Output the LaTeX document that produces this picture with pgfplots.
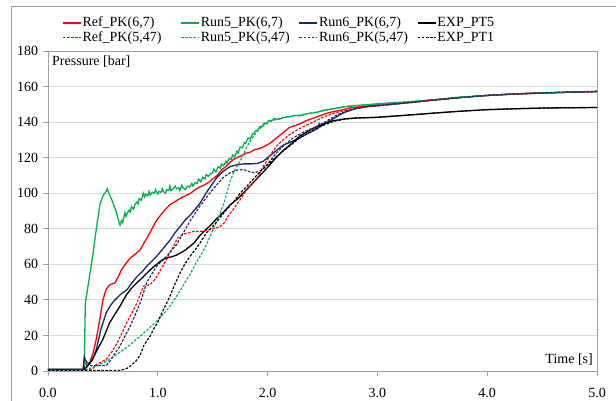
\documentclass[border=0pt]{standalone}
\usepackage{fontspec}
\setmainfont{Liberation Serif}
\usepackage{pgfplots}
\pgfplotsset{compat=1.18}
\definecolor{cred}{RGB}{255,0,0}
\definecolor{cgreen}{RGB}{0,176,80}
\definecolor{cblue}{RGB}{20,40,110}
\definecolor{cgrid}{RGB}{217,217,217}
\definecolor{cframe}{RGB}{160,160,160}
\begin{document}
\fontsize{14}{16}\selectfont
\begin{tikzpicture}
\useasboundingbox (0,0) rectangle (616pt,401pt);
\draw[cframe, line width=0.8pt] (11pt,0) -- (11pt,395pt) -- (616pt,395pt);
\begin{axis}[
  at={(48pt,30pt)}, anchor=south west,
  scale only axis, width=549pt, height=320pt,
  xmin=0, xmax=5, ymin=0, ymax=180,
  xtick={0,1,2,3,4,5}, ytick={0,20,...,180},
  xticklabel style={/pgf/number format/fixed, /pgf/number format/fixed zerofill, /pgf/number format/precision=1, yshift=-7pt},
  /pgf/number format/assume math mode=true,
  tick label style={font=\fontsize{14}{16}\selectfont},
  ymajorgrids, major grid style={cgrid, line width=0.8pt},
  axis line style={cframe, line width=0.8pt},
  tick style={cframe, line width=0.8pt},
  major tick length=5pt, tick align=outside, tick pos=left,
  legend columns=4,
  legend style={at={(0,1)}, anchor=south west, xshift=14pt, yshift=6pt,
    draw=none, fill=none, inner sep=0pt, row sep=1pt,
    font=\fontsize{14}{16}\selectfont,
    nodes={inner xsep=1pt, inner ysep=1pt}},
  legend image code/.code={\draw[#1] (0pt,0pt) -- (18pt,0pt);},
  legend cell align=left,
  sl/.style={line width=1.3pt},
  dl/.style={line width=1.15pt, dash pattern=on 2.6pt off 1.5pt},
]
% Ref_PK(6,7)
\addplot[cred, sl] coordinates {
(0,0.8)(0.32,0.8)(0.33,5)(0.36,3)(0.38,4.7)(0.41,10)(0.44,18)(0.46,25)(0.48,32)(0.50,40)(0.53,46)(0.565,48.6)(0.61,49.5)(0.64,53)(0.67,57)(0.71,60.5)(0.75,63.6)(0.78,65)(0.81,66.5)(0.84,68.2)(0.87,71.5)(0.90,74.6)(0.93,78)(0.96,81.5)(0.99,84.9)(1.03,88)(1.07,91)(1.11,93.5)(1.15,95)(1.20,97)(1.25,98.5)(1.30,100)(1.34,102)(1.38,103.5)(1.42,104.5)(1.46,106)(1.50,108)(1.54,110)(1.58,113)(1.62,115)(1.66,117.5)(1.69,119)(1.72,120)(1.76,121)(1.80,122.5)(1.84,123)(1.88,124.5)(1.92,125)(1.96,126)(2.02,128)(2.08,131)(2.14,134)(2.20,137)(2.25,138)(2.29,139)(2.36,141)(2.45,143)(2.54,145)(2.62,146.2)(2.69,147)(2.75,148)(2.9,149)(3.05,150.3)(3.3,151.3)(3.5,152.4)(3.75,153.8)(4.0,155)(4.25,155.8)(4.5,156.3)(4.75,156.8)(5.0,157.2)};
\addlegendentry{\makebox[97pt][l]{Ref\_PK(6,7)}}
% Run5_PK(6,7)
\addplot[cgreen, sl] coordinates {
(0,1)(0.33,1)(0.335,20)(0.34,38)(0.37,50)(0.41,66)(0.44,80)(0.474,94)(0.504,99)(0.52,100)(0.54,102.5)(0.56,99)(0.58,96.5)(0.60,93)(0.625,89)(0.64,85)(0.656,82)(0.67,84.5)(0.68,83.5)(0.70,89)(0.71,87)(0.72,88.5)(0.74,90.5)(0.75,89.5)(0.76,92.5)(0.78,91)(0.79,93.5)(0.81,95)(0.82,94)(0.83,97)(0.85,96)(0.868,100)(0.88,98)(0.89,99.5)(0.91,98.5)(0.92,101)(0.93,99)(0.95,100.5)(0.97,100)(0.98,102)(1.00,99.5)(1.01,101)(1.03,100.5)(1.04,102.5)(1.05,101)(1.07,100)(1.08,102)(1.10,101.5)(1.11,104)(1.12,101.5)(1.14,102.5)(1.16,104)(1.17,102.5)(1.19,103)(1.20,101.5)(1.22,104.5)(1.23,103)(1.25,102)(1.27,104)(1.29,103.5)(1.31,105.5)(1.32,104)(1.34,106)(1.36,105.5)(1.37,108)(1.39,106.5)(1.41,109)(1.43,108)(1.44,110.5)(1.46,109.5)(1.48,111)(1.50,111.5)(1.51,113.5)(1.53,112)(1.55,115)(1.57,114)(1.58,116.5)(1.60,115.5)(1.62,118)(1.63,117)(1.65,119.5)(1.67,119)(1.68,121.5)(1.70,120.5)(1.72,123.5)(1.73,122.5)(1.75,126)(1.77,125.5)(1.79,128.5)(1.80,128)(1.82,131)(1.84,130.5)(1.86,133)(1.87,133.5)(1.89,135)(1.91,135.5)(1.93,137.5)(1.95,137.5)(1.97,139.5)(1.99,139)(2.01,141)(2.03,140.5)(2.06,142)(2.10,141.5)(2.14,142.5)(2.20,143)(2.25,143.8)(2.29,143.5)(2.35,144.6)(2.45,145.5)(2.52,146.8)(2.6,147.5)(2.68,148.5)(2.75,149)(2.9,149.8)(3.05,150.5)(3.3,151.5)(3.5,152.5)(3.75,154)(4.0,155)(4.25,155.9)(4.5,156.5)(4.75,156.9)(5.0,157.3)};
\addlegendentry{\makebox[97pt][l]{Run5\_PK(6,7)}}
% Run6_PK(6,7)
\addplot[cblue, sl] coordinates {
(0,0.8)(0.32,0.8)(0.33,8)(0.35,5)(0.38,4)(0.41,7)(0.44,12)(0.48,23)(0.53,32.7)(0.57,37)(0.61,40)(0.66,43)(0.72,45.8)(0.77,50)(0.81,53)(0.86,56)(0.90,59)(0.95,62)(0.99,64.5)(1.05,69)(1.11,73.5)(1.16,78)(1.20,81)(1.25,85)(1.30,88)(1.38,94)(1.46,102)(1.54,109)(1.60,112.5)(1.66,115)(1.72,116)(1.78,116.5)(1.85,116.5)(1.91,116.8)(1.96,118)(2.00,120)(2.08,124)(2.14,127)(2.22,129)(2.29,131)(2.38,134)(2.46,136.5)(2.47,139)(2.48,137.5)(2.6,142)(2.7,145.5)(2.8,147.5)(2.9,148.6)(3.05,149.5)(3.3,151)(3.5,152.3)(3.75,153.8)(4.0,155)(4.25,155.8)(4.5,156.4)(4.75,156.8)(5.0,157.2)};
\addlegendentry{\makebox[97pt][l]{Run6\_PK(6,7)}}
% EXP_PT5
\addplot[black, sl] coordinates {
(0,0.8)(0.33,0.8)(0.35,2)(0.40,6)(0.44,11)(0.50,17.8)(0.56,27)(0.61,32)(0.656,36.5)(0.716,43)(0.76,46.5)(0.81,49.6)(0.86,52.5)(0.90,55)(0.95,58)(0.99,60)(1.04,62.5)(1.08,63.6)(1.13,64.3)(1.17,65.2)(1.21,66.5)(1.25,68)(1.29,70)(1.33,72)(1.38,76)(1.43,79)(1.48,82)(1.54,86)(1.60,89.5)(1.66,93.5)(1.73,97)(1.80,101.5)(1.87,106)(1.93,110)(2.0,114.5)(2.07,119.5)(2.14,124)(2.22,128)(2.29,132)(2.37,135)(2.45,137.5)(2.53,139.5)(2.6,140.8)(2.7,141.8)(2.8,142.3)(3.0,142.7)(3.25,143.8)(3.5,145)(3.75,146.1)(4.0,147)(4.25,147.5)(4.5,147.9)(4.75,148.1)(5.0,148.2)};
\addlegendentry{EXP\_PT5}
% Ref_PK(5,47)
\addplot[cred, dl] coordinates {
(0,0.8)(0.40,0.8)(0.44,3.7)(0.53,6.5)(0.595,12)(0.64,17)(0.686,23)(0.72,27.5)(0.75,31)(0.78,34.5)(0.81,38.3)(0.84,43)(0.868,47.7)(0.90,48.2)(0.93,48.6)(0.96,50.5)(0.99,53)(1.03,57.5)(1.08,62.8)(1.11,66.4)(1.15,71)(1.18,74.8)(1.23,77)(1.27,77.6)(1.33,78.5)(1.39,78.5)(1.45,79)(1.50,80)(1.56,81)(1.60,83)(1.65,88)(1.70,92)(1.75,96.4)(1.80,101)(1.84,104)(1.91,109)(1.96,115)(2.02,121)(2.08,126.4)(2.14,130)(2.2,133)(2.28,136)(2.36,138.5)(2.45,141)(2.51,143)(2.63,145.5)(2.75,147)(2.9,148.7)(3.05,149.5)(3.3,151)(3.5,152.3)(3.75,153.8)(4.0,155)(4.25,155.8)(4.5,156.4)(4.75,156.8)(5.0,157.2)};
\addlegendentry{\makebox[97pt][l]{Ref\_PK(5,47)}}
% Run5_PK(5,47)
\addplot[cgreen, dl] coordinates {
(0,0.8)(0.35,0.8)(0.44,2.8)(0.50,4.5)(0.56,6.5)(0.62,9)(0.69,12)(0.76,15.5)(0.84,19.6)(0.91,23.5)(0.99,28)(1.05,32)(1.10,35.5)(1.15,40)(1.20,45)(1.25,50)(1.30,55)(1.35,61)(1.40,66)(1.45,72)(1.50,79)(1.55,86)(1.60,94)(1.66,107)(1.70,113)(1.75,118)(1.81,126)(1.87,132)(1.93,136.5)(1.98,139)(2.05,141)(2.14,142.5)(2.29,144)(2.45,145.7)(2.6,147.5)(2.75,149)(3.05,150.3)(3.3,151.5)(3.5,152.5)(3.75,154)(4.0,155)(4.25,155.9)(4.5,156.5)(4.75,156.9)(5.0,157.2)};
\addlegendentry{\makebox[97pt][l]{Run5\_PK(5,47)}}
% Run6_PK(5,47)
\addplot[cblue, dl] coordinates {
(0,0.8)(0.33,0.8)(0.34,3)(0.53,3)(0.57,6)(0.60,9)(0.656,14)(0.70,19.5)(0.747,25)(0.79,31)(0.838,38)(0.87,44)(0.898,49.6)(0.94,54)(0.99,59)(1.04,62)(1.08,64.5)(1.12,67.5)(1.17,71)(1.23,77.5)(1.30,85)(1.38,92.5)(1.46,99)(1.54,105)(1.60,109)(1.66,111.5)(1.72,113)(1.78,113.3)(1.84,112)(1.88,111.5)(1.93,112.5)(1.96,113.5)(2.02,118)(2.08,122.6)(2.15,127)(2.23,131)(2.33,134.5)(2.45,137.6)(2.55,141)(2.63,144)(2.75,147)(2.9,148.7)(3.05,149.5)(3.3,151)(3.5,152.3)(3.75,153.8)(4.0,155)(4.25,155.8)(4.5,156.4)(4.75,156.8)(5.0,157.2)};
\addlegendentry{\makebox[97pt][l]{Run6\_PK(5,47)}}
% EXP_PT1
\addplot[black, dl] coordinates {
(0,0.3)(0.66,0.3)(0.72,1.5)(0.75,2.8)(0.80,5.5)(0.84,9)(0.87,14)(0.90,17)(0.93,19.6)(0.96,23.4)(1.00,27.5)(1.04,33)(1.08,38)(1.11,42)(1.16,49.5)(1.21,56)(1.25,60.5)(1.30,65)(1.35,69)(1.39,72.5)(1.44,77.5)(1.51,82)(1.57,86.5)(1.63,91)(1.70,96)(1.75,100)(1.82,104.5)(1.90,110)(1.96,114)(2.0,116)(2.07,120)(2.14,123.6)(2.22,127.5)(2.29,131)(2.37,134)(2.45,136.6)(2.53,138.8)(2.6,140.4)(2.7,141.6)(2.8,142.3)(3.0,142.7)(3.25,143.8)(3.5,145)(3.75,146.1)(4.0,147)(4.25,147.5)(4.5,147.9)(4.75,148.1)(5.0,148.2)};
\addlegendentry{EXP\_PT1}
\node[anchor=base west, inner sep=0pt] at (rel axis cs:0,1) [xshift=4pt, yshift=-15pt] {Pressure [bar]};
\node[anchor=base east, inner sep=0pt] at (rel axis cs:1,0) [xshift=-4pt, yshift=7pt] {Time [s]};
\end{axis}
\end{tikzpicture}
\end{document}
